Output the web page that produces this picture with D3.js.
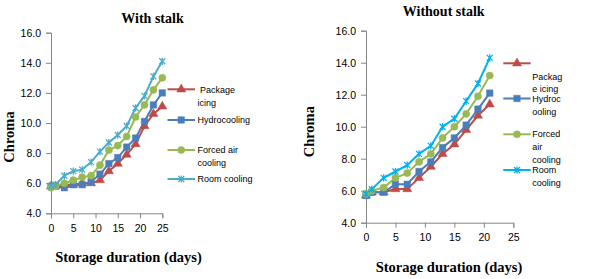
<!DOCTYPE html>
<html>
<head>
<meta charset="utf-8">
<script src="https://cdn.jsdelivr.net/npm/d3@7"></script>
<style>
  body { margin: 0; background: #fff; }
  .axis path, .axis line { stroke: #868686; }
  .axis text { font-family: "Liberation Sans", Arial, sans-serif; font-size: 10.5px; fill: #000; }
  .ttl { font-family: "Liberation Serif", "Times New Roman", serif; font-weight: bold; fill: #000; }
  .leg { font-family: "Liberation Sans", Arial, sans-serif; font-size: 9px; fill: #000; }
</style>
</head>
<body>
<div id="chart"></div>
<script>
// days sampled
const daysWith = [0, 1, 3, 5, 7, 9, 11, 13, 15, 17, 19, 21, 23, 25];
const daysWithout = [0, 1, 3, 5, 7, 9, 11, 13, 15, 17, 19, 21];
const yTicks = [4, 6, 8, 10, 12, 14, 16];
const xTicks = [0, 5, 10, 15, 20, 25];

// with stalk
const withPackage = [5.8, 5.8, 5.9, 5.9, 6.0, 6.0, 6.2, 6.8, 7.3, 7.9, 8.6, 9.8, 10.6, 11.1];
const withHydro   = [5.8, 5.8, 5.7, 5.9, 5.9, 6.1, 6.6, 7.3, 7.7, 8.4, 9.0, 10.1, 11.2, 12.0];
const withForced  = [5.7, 5.8, 6.0, 6.2, 6.4, 6.5, 7.2, 8.2, 8.5, 9.1, 10.4, 11.2, 12.2, 13.0];
const withRoom    = [5.8, 5.9, 6.5, 6.8, 6.9, 7.4, 8.1, 8.7, 9.2, 9.8, 11.0, 11.8, 13.1, 14.1];

// without stalk
const withoutPackage = [5.7, 5.9, 5.9, 6.1, 6.1, 6.8, 7.5, 8.3, 8.9, 9.8, 10.7, 11.4];
const withoutHydro   = [5.7, 5.9, 5.9, 6.4, 6.4, 7.2, 7.8, 8.7, 9.3, 10.1, 11.1, 12.1];
const withoutForced  = [5.8, 6.0, 6.2, 6.8, 7.1, 7.8, 8.3, 9.3, 10.0, 10.8, 11.9, 13.2];
const withoutRoom    = [5.8, 6.1, 6.8, 7.2, 7.6, 8.3, 8.8, 10.0, 10.5, 11.6, 12.7, 14.3];

const svg = d3.select("#chart").append("svg")
  .attr("width", 600)
  .attr("height", 279);

const markerPaths = {
  tri: d3.symbol().type(d3.symbolTriangle).size(36)(),
  sq: d3.symbol().type(d3.symbolSquare).size(42)(),
  circ: d3.symbol().type(d3.symbolCircle).size(40)(),
  star: "M-3,-3L3,3M-3,3L3,-3M0,-3.6L0,3.6"
};

function drawPanel(opt) {
  const x = d3.scaleLinear().domain([0, 25]).range(opt.xr);
  const y = d3.scaleLinear().domain([4, 16]).range(opt.yr);

  svg.append("g")
    .attr("class", "axis")
    .attr("transform", "translate(0," + opt.yr[0] + ")")
    .call(d3.axisBottom(x).tickValues(xTicks).tickSizeOuter(0).tickSize(5).tickPadding(6));

  svg.append("g")
    .attr("class", "axis")
    .attr("transform", "translate(" + opt.xr[0] + ",0)")
    .call(d3.axisLeft(y).tickValues(yTicks).tickFormat(d3.format(".1f")).tickSizeOuter(0).tickSize(5).tickPadding(5));

  // Title
  svg.append("text").attr("class", "ttl")
    .attr("x", opt.title[1]).attr("y", opt.title[2])
    .attr("text-anchor", "middle").attr("dominant-baseline", "central")
    .style("font-size", "14px")
    .text(opt.title[0]);

  svg.append("text").attr("class", "ttl")
    .attr("x", opt.xlab[0]).attr("y", opt.xlab[1])
    .attr("text-anchor", "middle").attr("dominant-baseline", "central")
    .style("font-size", "14.5px")
    .text("Storage duration (days)");

  svg.append("text").attr("class", "ttl")
    .attr("transform", "translate(" + opt.ylab[0] + "," + opt.ylab[1] + ") rotate(-90)")
    .attr("text-anchor", "middle").attr("dominant-baseline", "central")
    .style("font-size", "14.5px")
    .text("Chroma");

  const line = d3.line()
    .x((d, i) => x(opt.days[i]))
    .y(d => y(d));

  opt.series.forEach(function(s) {
    svg.append("path")
      .datum(s.values)
      .attr("fill", "none")
      .attr("stroke", s.color)
      .attr("stroke-width", 2)
      .attr("d", line);
  });
  opt.series.forEach(function(s) {
    svg.selectAll(null)
      .data(s.values)
      .enter().append("path")
      .attr("transform", (d, i) => "translate(" + x(opt.days[i]) + "," + y(d) + ")")
      .attr("d", markerPaths[s.marker])
      .attr("fill", s.marker == "star" ? "none" : s.color)
      .attr("stroke", s.color)
      .attr("stroke-width", s.marker == "star" ? 1.3 : 0.5);
  });

  // legend
  opt.series.forEach(function(s, k) {
    const ly = opt.legend.ys[k];
    svg.append("line")
      .attr("x1", opt.legend.x1).attr("x2", opt.legend.x2)
      .attr("y1", ly).attr("y2", ly)
      .attr("stroke", s.color).attr("stroke-width", 2);
    svg.append("path")
      .attr("transform", "translate(" + (opt.legend.x1 + opt.legend.x2) / 2 + "," + ly + ")")
      .attr("d", markerPaths[s.marker])
      .attr("fill", s.marker == "star" ? "none" : s.color)
      .attr("stroke", s.color)
      .attr("stroke-width", s.marker == "star" ? 1.3 : 0.5);
    const t = svg.append("text").attr("class", "leg")
      .attr("dominant-baseline", "central");
    opt.legend.labels[k].forEach(function(txt, j) {
      t.append("tspan")
        .attr("x", opt.legend.tx)
        .attr("y", opt.legend.ty[k] + j * 12.6)
        .attr("xml:space", "preserve")
        .text(txt);
    });
  });
}

drawPanel({
  days: daysWith,
  xr: [51, 162.3],
  yr: [213.3, 32.7],
  title: ["With stalk", 152.5, 18.3],
  xlab: [128.5, 256.7],
  ylab: [8.5, 137],
  series: [
    {values: withPackage, color: "#BE4B48", marker: "tri"},
    {values: withHydro, color: "#4A7EBB", marker: "sq"},
    {values: withForced, color: "#98B954", marker: "circ"},
    {values: withRoom, color: "#4BACC6", marker: "star"}
  ],
  legend: {
    x1: 167.5, x2: 195, tx: 197.5,
    ys: [89.3, 120, 150, 179],
    ty: [90, 120, 150, 179],
    labels: [[" Package", "icing"], ["Hydrocooling"], ["Forced air", "cooling"], ["Room cooling"]]
  }
});

drawPanel({
  days: daysWithout,
  xr: [366, 513.3],
  yr: [222.7, 30.7],
  title: ["Without stalk", 443.7, 11.7],
  xlab: [449, 266.7],
  ylab: [309.3, 131.7],
  series: [
    {values: withoutPackage, color: "#BE4B48", marker: "tri"},
    {values: withoutHydro, color: "#4A7EBB", marker: "sq"},
    {values: withoutForced, color: "#98B954", marker: "circ"},
    {values: withoutRoom, color: "#00B0F0", marker: "star"}
  ],
  legend: {
    x1: 503.3, x2: 530.7, tx: 532.3,
    ys: [63.3, 98.5, 134.3, 170],
    ty: [76.5, 99, 134.3, 170],
    labels: [["Packag", "e icing"], ["Hydroc", "ooling"], ["Forced", "air", "cooling"], ["Room", "cooling"]]
  }
});
</script>
</body>
</html>
